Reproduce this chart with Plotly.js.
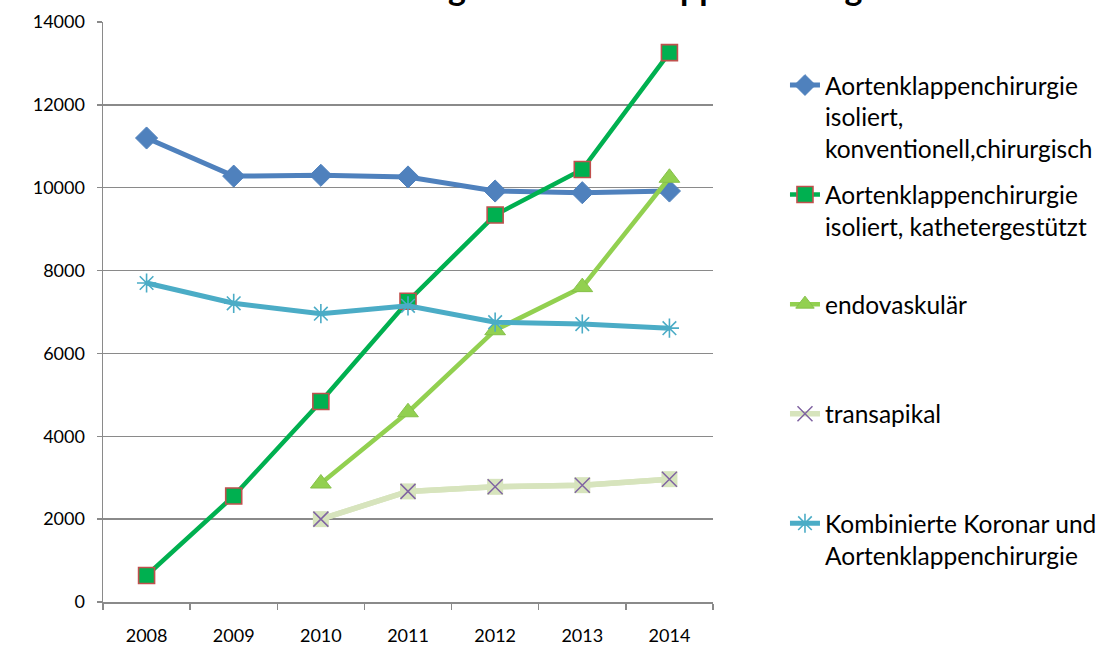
<!DOCTYPE html>
<html>
<head>
<meta charset="utf-8">
<script src="https://cdn.plot.ly/plotly-3.0.1.min.js"></script>
<style>html,body{margin:0;padding:0;background:#fff;}#chart{width:1103px;height:647px;}</style>
</head>
<body>
<div id="chart"></div>
<script>
// Data
var years = ['2008', '2009', '2010', '2011', '2012', '2013', '2014'];
var konventionell = [11200, 10280, 10300, 10260, 9920, 9880, 9920];
var katheter = [640, 2560, 4840, 7260, 9340, 10440, 13260];
var endovaskulaer = [null, null, 2860, 4580, 6560, 7600, 10240];
var transapikal = [null, null, 2000, 2670, 2780, 2820, 2965];
var kombiniert = [7700, 7210, 6960, 7150, 6755, 6710, 6610];

var NB = '\u00A0';
var names = [
  'Aortenklappenchirurgie<br>isoliert,<br>konventionell,chirurgisch',
  'Aortenklappenchirurgie<br>isoliert, kathetergestützt<br>' + NB,
  'endovaskulär<br>' + NB + '<br>' + NB,
  'transapikal<br>' + NB + '<br>' + NB,
  'Kombinierte Koronar und<br>Aortenklappenchirurgie<br>' + NB
];
var titleText = 'Entwicklung der Aortenklappenchirurgie';

var traces = [
  {
    x: years, y: konventionell, name: names[0], legendgroup: 'g1',
    type: 'scatter', mode: 'lines+markers',
    line: {color: '#4F81BD', width: 5},
    marker: {symbol: 'diamond', size: 17, color: '#4F81BD', line: {color: '#4F81BD', width: 1}}
  },
  {
    x: years, y: katheter, name: names[1], legendgroup: 'g2',
    type: 'scatter', mode: 'lines+markers',
    line: {color: '#00B050', width: 4.5},
    marker: {symbol: 'square', size: 16, color: '#00B050', line: {color: '#C0504D', width: 1.6}}
  },
  {
    x: years, y: endovaskulaer, name: names[2], legendgroup: 'g3',
    type: 'scatter', mode: 'lines+markers',
    line: {color: '#92D050', width: 4.5},
    marker: {symbol: 'triangle-up', size: 18, color: '#92D050', line: {color: '#86C04A', width: 1}}
  },
  {
    x: years, y: transapikal, name: 'transapikal-bg', legendgroup: 'g4', showlegend: false,
    type: 'scatter', mode: 'lines+markers',
    line: {color: '#D7E4BD', width: 5.5},
    marker: {symbol: 'square', size: 16, color: '#D7E4BD', line: {width: 0}},
    hoverinfo: 'skip'
  },
  {
    x: years, y: transapikal, name: names[3], legendgroup: 'g4',
    type: 'scatter', mode: 'lines+markers',
    line: {color: '#D7E4BD', width: 5.5},
    marker: {symbol: 'x-thin-open', size: 15, color: '#8064A2', line: {color: '#8064A2', width: 1.5}}
  },
  {
    x: years, y: kombiniert, name: names[4], legendgroup: 'g5',
    type: 'scatter', mode: 'lines+markers',
    line: {color: '#4BACC6', width: 5},
    marker: {symbol: 'asterisk-open', size: 16, color: '#4BACC6', line: {color: '#4BACC6', width: 1.6}}
  }
];

var gridColor = '#8a8a8a';
var layout = {
  width: 1103, height: 647,
  paper_bgcolor: '#ffffff', plot_bgcolor: '#ffffff',
  font: {family: 'Lato, "Liberation Sans", sans-serif', color: '#000000', size: 18},
  margin: {l: 103, r: 390, t: 22, b: 45, pad: 0, autoexpand: false},
  title: {
    text: titleText,
    font: {family: 'Lato, "Liberation Sans", sans-serif', size: 34, weight: 700, color: '#000000'},
    xref: 'container', x: 0.53, xanchor: 'center',
    yref: 'container', y: 1, yanchor: 'bottom'
  },
  xaxis: {
    type: 'category', range: [-0.5, 6.5],
    showgrid: false, zeroline: false,
    showline: true, linecolor: gridColor, linewidth: 1.5,
    ticks: 'outside', tickson: 'boundaries', ticklen: 6, tickcolor: gridColor, tickwidth: 1.5,
    tickfont: {size: 18}, ticklabelstandoff: 17
  },
  yaxis: {
    range: [0, 14000], dtick: 2000, tick0: 0,
    tickformat: 'd',
    showgrid: true, gridcolor: gridColor, gridwidth: 1.5,
    zeroline: false,
    showline: true, linecolor: gridColor, linewidth: 1.5,
    ticks: 'outside', ticklen: 5, tickcolor: gridColor, tickwidth: 1.5,
    tickfont: {size: 18}, ticklabelstandoff: 8
  },
  showlegend: true,
  legend: {
    x: 1.118, xanchor: 'left', y: 0.93, yanchor: 'top',
    traceorder: 'grouped', tracegroupgap: 11,
    valign: 'top',
    font: {size: 24.5, color: '#000000'},
    bgcolor: 'rgba(0,0,0,0)', borderwidth: 0,
    itemwidth: 30
  }
};

Plotly.newPlot('chart', traces, layout, {displayModeBar: false, staticPlot: true});
</script>
</body>
</html>
